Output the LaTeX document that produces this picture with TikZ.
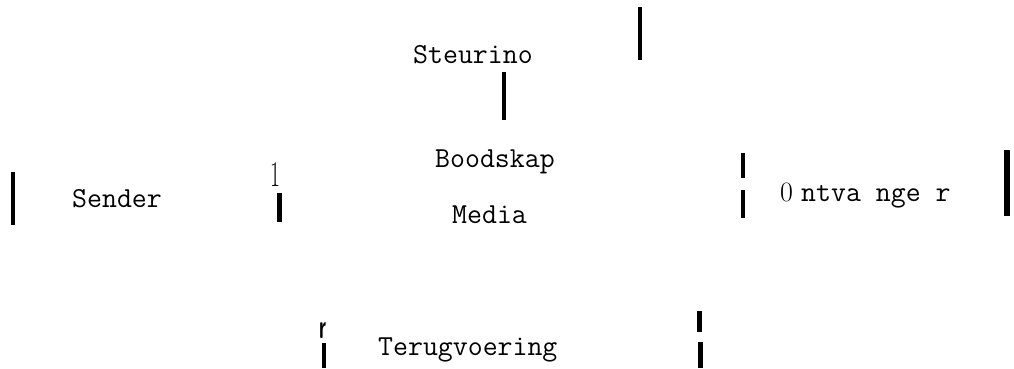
\documentclass[tikz,border=0pt]{standalone}
\usepackage{tikz}

\begin{document}
\begin{tikzpicture}[
    x=1pt, y=-1pt,
    txt/.style={inner sep=0pt, anchor=base west, font=\ttfamily\fontsize{29}{31}\selectfont},
    glyph/.style={inner sep=0pt, anchor=base, font=\rmfamily\fontsize{28}{30}\selectfont},
    bar/.style={line width=4pt}
  ]
    \useasboundingbox (0, 0) rectangle (1014, 368);
    \node[txt] (steur)  at (413, 63)  {Steurino};
    \node[txt] (msg)    at (435, 167) {Boodskap};
    \node[txt] (media)  at (452, 223) {Media};
    \node[txt] (sender) at (72, 207)  {Sender};
    \node[txt] (recv)   at (801, 201) {ntva nge r};
    \node[glyph] (recvo) at (786.5, 201) {0};
    \node[txt] (feed)   at (378, 355) {Terugvoering};
    \node[glyph, font=\rmfamily\fontsize{36}{38}\selectfont, xscale=0.6, transform shape] (one) at (275.5, 186) {1};
    \node[glyph, font=\sffamily\bfseries\fontsize{34}{36}\selectfont, xscale=0.55, transform shape] (hook) at (323, 338) {r};
    \draw[bar] (504, 72) -- (504, 120);
    \draw[bar, line width=4.5pt] (640, 7) -- (640, 60);
    \draw[bar] (13, 172) -- (13, 225);
    \draw[bar, line width=5pt] (279.5, 193) -- (279.5, 222);
    \draw[bar, line width=3.5pt] (743, 153) -- (743, 178);
    \draw[bar, line width=3.5pt] (743, 190) -- (743, 218);
    \draw[bar, line width=6pt] (1007, 150) -- (1007, 216);
    \draw[bar] (323.5, 343) -- (323.5, 368);
    \draw[bar, line width=5pt] (699.5, 311) -- (699.5, 332);
    \draw[bar, line width=5pt] (700.5, 342) -- (700.5, 368);
\end{tikzpicture}
\end{document}
